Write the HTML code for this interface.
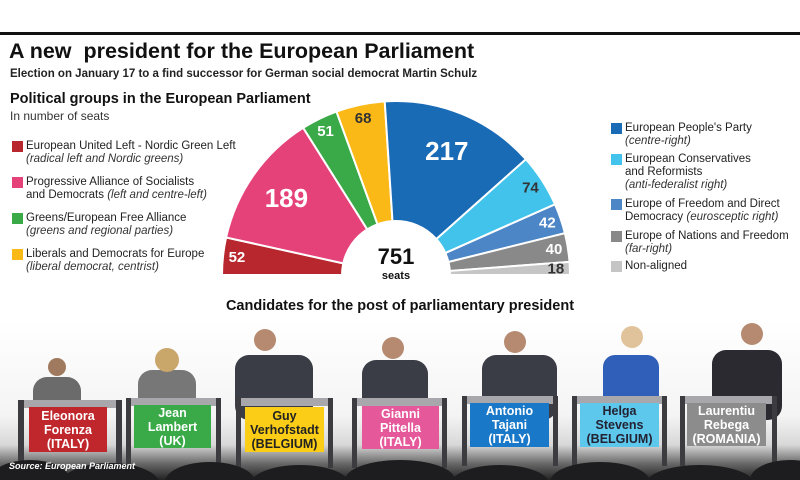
<!DOCTYPE html>
<html><head><meta charset="utf-8">
<style>
html,body{margin:0;width:800px;height:480px;overflow:hidden}
body{background:#fff;font-family:"Liberation Sans",sans-serif;position:relative;color:#111}
.a{position:absolute;white-space:nowrap}
.leg{position:absolute;font-size:11.5px;line-height:13px;color:#222;white-space:nowrap}
.leg .sq{position:absolute;left:-14px;top:1px;width:11px;height:11px}
.leg i{color:#333}
.box{position:absolute;color:#fff;font-weight:bold;font-size:12.5px;line-height:14px;text-align:center;display:flex;align-items:center;justify-content:center;font-family:"Liberation Sans Narrow","Liberation Sans",sans-serif}
</style></head><body>
<div class="a" style="left:0;top:32px;width:800px;height:3px;background:#111"></div>
<div class="a" style="left:9px;top:39px;font-size:21.5px;font-weight:bold">A new&nbsp; president for the European Parliament</div>
<div class="a" style="left:10px;top:68px;font-size:11.5px;font-weight:bold;color:#222">Election on January 17 to a find successor for German social democrat Martin Schulz</div>
<div class="a" style="left:10px;top:91px;font-size:14.5px;font-weight:bold">Political groups in the European Parliament</div>
<div class="a" style="left:10px;top:109px;font-size:12px;color:#333">In number of seats</div>

<div class="leg" style="left:26px;top:140px"><span class="sq" style="background:#b8262e"></span>European United Left - Nordic Green Left<br><i>(radical left and Nordic greens)</i></div>
<div class="leg" style="left:26px;top:176px"><span class="sq" style="background:#e5427a"></span>Progressive Alliance of Socialists<br>and Democrats <i>(left and centre-left)</i></div>
<div class="leg" style="left:26px;top:212px"><span class="sq" style="background:#3aaa49"></span>Greens/European Free Alliance<br><i>(greens and regional parties)</i></div>
<div class="leg" style="left:26px;top:248px"><span class="sq" style="background:#fbb917"></span>Liberals and Democrats for Europe<br><i>(liberal democrat, centrist)</i></div>

<div class="leg" style="left:625px;top:122px"><span class="sq" style="background:#1a6bb5"></span>European People's Party<br><i>(centre-right)</i></div>
<div class="leg" style="left:625px;top:153px"><span class="sq" style="background:#41c3ec"></span>European Conservatives<br>and Reformists<br><i>(anti-federalist right)</i></div>
<div class="leg" style="left:625px;top:198px"><span class="sq" style="background:#4d86c6"></span>Europe of Freedom and Direct<br>Democracy <i>(eurosceptic right)</i></div>
<div class="leg" style="left:625px;top:230px"><span class="sq" style="background:#898989"></span>Europe of Nations and Freedom<br><i>(far-right)</i></div>
<div class="leg" style="left:625px;top:260px"><span class="sq" style="background:#c5c5c5"></span>Non-aligned</div>

<svg id="chart" class="a" style="left:0;top:0" width="800" height="290"></svg>

<div class="a" style="left:0;top:320px;width:800px;height:160px;background:linear-gradient(#fff 0%,#f4f4f4 60%,#d8d8d8 78%,#666 90%,#222 100%)"></div>
<div class="a" style="left:0;width:800px;text-align:center;top:298px;font-size:14.5px;font-weight:bold;color:#111">Candidates for the post of parliamentary president</div>
<svg class="a" style="left:0;top:320px" width="800" height="160">
<g fill="#3a3d45">
<rect x="33" y="57" width="48" height="40" rx="14" fill="#6b6b6b"/><circle cx="57" cy="47" r="9" fill="#a07a5e"/>
<rect x="138" y="50" width="58" height="45" rx="14" fill="#777"/><circle cx="167" cy="40" r="12" fill="#c9a66a"/>
<rect x="235" y="35" width="78" height="65" rx="14"/><circle cx="265" cy="20" r="11" fill="#b58a70"/>
<rect x="362" y="40" width="66" height="60" rx="14"/><circle cx="393" cy="28" r="11" fill="#b58a70"/>
<rect x="482" y="35" width="75" height="65" rx="14"/><circle cx="515" cy="22" r="11" fill="#b58a70"/>
<rect x="603" y="35" width="56" height="65" rx="12" fill="#2f5fb8"/><circle cx="632" cy="17" r="11" fill="#e0c39a"/>
<rect x="712" y="30" width="70" height="70" rx="14" fill="#2a2a30"/><circle cx="752" cy="14" r="11" fill="#b58a70"/>
</g>
<g fill="#a8a8ac">
<rect x="24" y="80" width="92" height="8"/><rect x="130" y="78" width="88" height="8"/><rect x="240" y="78" width="90" height="8"/>
<rect x="356" y="78" width="88" height="8"/><rect x="465" y="76" width="90" height="8"/><rect x="576" y="76" width="88" height="8"/><rect x="683" y="76" width="90" height="8"/>
</g>
<g fill="#3c3c40">
<rect x="18" y="80" width="6" height="70"/><rect x="116" y="80" width="6" height="70"/>
<rect x="126" y="78" width="5" height="70"/><rect x="216" y="78" width="5" height="70"/>
<rect x="236" y="78" width="5" height="70"/><rect x="328" y="78" width="5" height="70"/>
<rect x="352" y="78" width="5" height="70"/><rect x="442" y="78" width="5" height="70"/>
<rect x="462" y="76" width="5" height="70"/><rect x="553" y="76" width="5" height="70"/>
<rect x="572" y="76" width="5" height="70"/><rect x="662" y="76" width="5" height="70"/>
<rect x="680" y="76" width="5" height="70"/><rect x="772" y="76" width="5" height="70"/>
</g>
<g fill="#1d1d1f">
<ellipse cx="30" cy="160" rx="40" ry="20"/><ellipse cx="110" cy="165" rx="50" ry="22"/><ellipse cx="210" cy="162" rx="45" ry="20"/>
<ellipse cx="300" cy="165" rx="50" ry="20"/><ellipse cx="400" cy="160" rx="55" ry="20"/><ellipse cx="500" cy="165" rx="50" ry="20"/>
<ellipse cx="600" cy="162" rx="50" ry="20"/><ellipse cx="700" cy="165" rx="55" ry="20"/><ellipse cx="790" cy="160" rx="40" ry="20"/>
</g>
</svg>
<div class="box" style="left:29px;top:407px;width:78px;height:45px;background:#c0272d">Eleonora<br>Forenza<br>(ITALY)</div>
<div class="box" style="left:134px;top:405px;width:77px;height:43px;background:#3aaa49">Jean<br>Lambert<br>(UK)</div>
<div class="box" style="left:245px;top:407px;width:79px;height:45px;background:#fbcd17;color:#222">Guy<br>Verhofstadt<br>(BELGIUM)</div>
<div class="box" style="left:362px;top:406px;width:77px;height:43px;background:#e5589a">Gianni<br>Pittella<br>(ITALY)</div>
<div class="box" style="left:470px;top:403px;width:79px;height:44px;background:#1a78c8">Antonio<br>Tajani<br>(ITALY)</div>
<div class="box" style="left:580px;top:403px;width:79px;height:44px;background:#5ec8ec;color:#223">Helga<br>Stevens<br>(BELGIUM)</div>
<div class="box" style="left:687px;top:403px;width:79px;height:43px;background:#8c8c8c">Laurentiu<br>Rebega<br>(ROMANIA)</div>
<div class="a" style="left:9px;top:461px;font-size:9px;font-weight:bold;font-style:italic;color:#fff">Source: European Parliament</div>

<script>
const groups=["GUE/NGL","S&D","Greens/EFA","ALDE","EPP","ECR","EFDD","ENF","NI"];
const seats=[52,189,51,68,217,74,42,40,18];
const colors=["#b8262e","#e5427a","#3aaa49","#fbb917","#1a6bb5","#41c3ec","#4d86c6","#898989","#c5c5c5"];
const textColors=["#fff","#fff","#fff","#333","#fff","#333","#fff","#fff","#333"];
const svg=document.getElementById('chart');
const NS="http://www.w3.org/2000/svg";
const cx=396,cy=275,R=174,r0=54;
const total=seats.reduce((a,b)=>a+b,0);
function ang(v){return Math.PI-Math.PI*v/total;}
function pt(a,rad){return [cx+rad*Math.cos(a),cy-rad*Math.sin(a)];}
let cum=0;
seats.forEach((v,i)=>{
  const a0=ang(cum),a1=ang(cum+v);cum+=v;
  const p1=pt(a0,R),p2=pt(a1,R),p3=pt(a1,r0),p4=pt(a0,r0);
  const large=(a0-a1)>Math.PI?1:0;
  const path=document.createElementNS(NS,'path');
  path.setAttribute('d',`M${p4[0]},${p4[1]}L${p1[0]},${p1[1]}A${R},${R} 0 ${large} 1 ${p2[0]},${p2[1]}L${p3[0]},${p3[1]}A${r0},${r0} 0 ${large} 0 ${p4[0]},${p4[1]}Z`);
  path.setAttribute('fill',colors[i]);
  path.setAttribute('stroke','#fff');
  path.setAttribute('stroke-width','2');
  
  
  svg.appendChild(path);
  const mid=(a0+a1)/2;
  const big=v>150;
  const lp=pt(mid,big?134:160);
  const t=document.createElementNS(NS,'text');
  t.setAttribute('x',lp[0]);t.setAttribute('y',lp[1]);
  t.setAttribute('text-anchor','middle');t.setAttribute('dominant-baseline','central');
  t.setAttribute('font-size',big?'26':'15');t.setAttribute('font-weight','bold');
  t.setAttribute('fill',textColors[i]);
  t.textContent=v;
  
  
  svg.appendChild(t);
});
const tt=document.createElementNS(NS,'text');
tt.setAttribute('x',cx);tt.setAttribute('y',264);tt.setAttribute('text-anchor','middle');
tt.setAttribute('font-size','22');tt.setAttribute('font-weight','bold');tt.setAttribute('fill','#111');
tt.textContent=total;


svg.appendChild(tt);
const ts=document.createElementNS(NS,'text');
ts.setAttribute('x',cx);ts.setAttribute('y',279);ts.setAttribute('text-anchor','middle');
ts.setAttribute('font-size','11');ts.setAttribute('font-weight','bold');ts.setAttribute('fill','#111');
ts.textContent='seats';


svg.appendChild(ts);
</script>
</body></html>
